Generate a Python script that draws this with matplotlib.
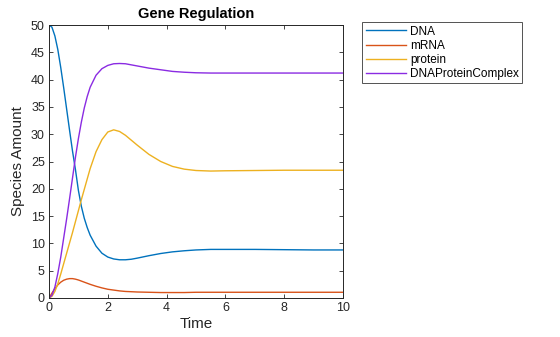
import matplotlib
matplotlib.use("Agg")
import matplotlib.pyplot as plt

plt.rcParams['font.family'] = ['Liberation Sans', 'DejaVu Sans']

# Simulation output: time (hours) and species amounts
time = [0, 0.1, 0.2, 0.3, 0.4, 0.5, 0.6, 0.7, 0.8, 0.9, 1.0, 1.1, 1.2, 1.3, 1.4,
        1.6, 1.8, 2.0, 2.2, 2.4, 2.6, 2.8, 3.0, 3.4, 3.8, 4.2, 4.6, 5.0, 5.5,
        6, 7, 8, 9, 10]

dna = [50, 49.6, 48.0, 45.5, 42.2, 38.5, 34.6, 30.7, 26.9, 23.5, 19.7, 16.8,
       14.6, 12.9, 11.5, 9.5, 8.2, 7.5, 7.15, 7.0, 7.0, 7.1, 7.3, 7.75, 8.15,
       8.45, 8.65, 8.8, 8.9, 8.9, 8.9, 8.85, 8.8, 8.8]

mrna = [0, 0.9, 1.7, 2.4, 2.9, 3.25, 3.45, 3.55, 3.55, 3.45, 3.3, 3.1, 2.9,
        2.7, 2.5, 2.15, 1.85, 1.6, 1.45, 1.3, 1.2, 1.15, 1.1, 1.05, 1.0, 1.0,
        1.0, 1.05, 1.05, 1.05, 1.05, 1.05, 1.05, 1.05]

protein = [0, 0.3, 1.2, 2.6, 4.4, 6.3, 8.2, 10.1, 12.0, 14.0, 16.0, 18.0,
           19.9, 21.8, 23.7, 26.8, 29.0, 30.4, 30.8, 30.5, 29.8, 28.9, 28.0,
           26.3, 25.0, 24.1, 23.6, 23.35, 23.25, 23.3, 23.35, 23.4, 23.4, 23.4]

complex_ = [0, 0.5, 2.0, 4.5, 7.5, 11.0, 14.5, 18.2, 22.0, 25.8, 29.2, 32.2,
            34.8, 36.9, 38.6, 40.8, 42.0, 42.6, 42.9, 42.95, 42.9, 42.7, 42.5,
            42.1, 41.8, 41.5, 41.35, 41.25, 41.2, 41.2, 41.2, 41.2, 41.2, 41.2]

names = ['DNA', 'mRNA', 'protein', 'DNAProteinComplex']
series = [dna, mrna, protein, complex_]
colors = ['#0072BD', '#D95319', '#EDB120', '#8A2BE2']

x_ticks = [0, 2, 4, 6, 8, 10]
y_ticks = [0, 5, 10, 15, 20, 25, 30, 35, 40, 45, 50]

fig = plt.figure(figsize=(5.6, 3.37), dpi=100)
ax = fig.add_axes([49 / 560, 1 - 298 / 337, 294 / 560, 273 / 337])

for vals, name, c in zip(series, names, colors):
    ax.plot(time, vals, color=c, lw=1.0, label=name)

ax.set_xlim(0, 10)
ax.set_ylim(0, 50)
ax.set_xticks(x_ticks)
ax.set_yticks(y_ticks)
ax.tick_params(direction='in', length=3, width=0.6, top=True, right=True,
               labelsize=9, colors='#262626', pad=3)
for s in ax.spines.values():
    s.set_linewidth(0.7)
    s.set_color('#262626')

ax.set_xlabel('Time', fontsize=11, color='#262626', labelpad=2)
ax.set_ylabel('Species Amount', fontsize=11, color='#262626', labelpad=4)
ax.set_title('Gene Regulation', fontsize=10.5, fontweight='bold', pad=5)

leg = fig.legend(loc='upper left', bbox_to_anchor=(362 / 560, 1 - 22 / 337),
                 fontsize=8.5, frameon=True, fancybox=False, edgecolor='#262626',
                 handlelength=3.4, handletextpad=0.35, labelspacing=0.18,
                 borderpad=0.3, borderaxespad=0)
leg.get_frame().set_linewidth(0.7)

fig.savefig('out.png', dpi=100)
